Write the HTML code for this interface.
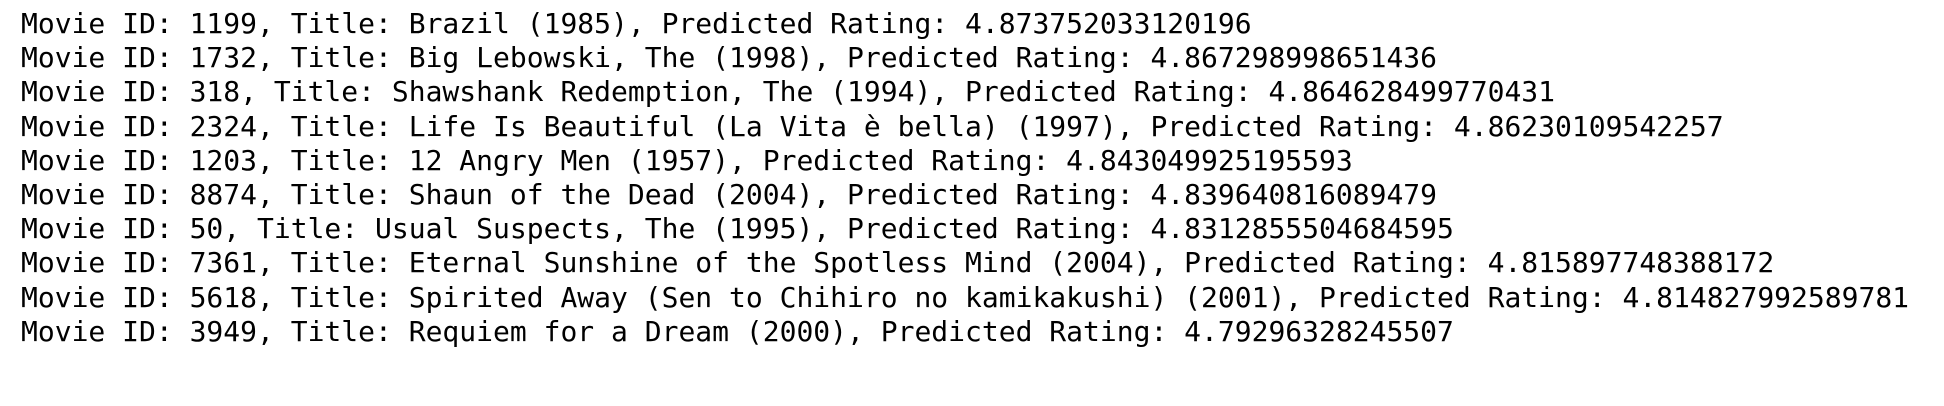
<!DOCTYPE html>
<html><head><meta charset="utf-8"><style>
html,body{margin:0;padding:0;background:#fff;}
body{width:1944px;height:406px;overflow:hidden;position:relative;}
#out{position:absolute;left:21px;top:7px;margin:0;font-family:"DejaVu Sans Mono","Liberation Mono",monospace;font-size:28px;line-height:34.2px;color:#000;white-space:pre;}
</style></head><body>
<pre id="out"><span>Movie ID: 1199, Title: Brazil (1985), Predicted Rating: 4.873752033120196</span>
<span>Movie ID: 1732, Title: Big Lebowski, The (1998), Predicted Rating: 4.867298998651436</span>
<span>Movie ID: 318, Title: Shawshank Redemption, The (1994), Predicted Rating: 4.864628499770431</span>
<span>Movie ID: 2324, Title: Life Is Beautiful (La Vita è bella) (1997), Predicted Rating: 4.86230109542257</span>
<span>Movie ID: 1203, Title: 12 Angry Men (1957), Predicted Rating: 4.843049925195593</span>
<span>Movie ID: 8874, Title: Shaun of the Dead (2004), Predicted Rating: 4.839640816089479</span>
<span>Movie ID: 50, Title: Usual Suspects, The (1995), Predicted Rating: 4.8312855504684595</span>
<span>Movie ID: 7361, Title: Eternal Sunshine of the Spotless Mind (2004), Predicted Rating: 4.815897748388172</span>
<span>Movie ID: 5618, Title: Spirited Away (Sen to Chihiro no kamikakushi) (2001), Predicted Rating: 4.814827992589781</span>
<span>Movie ID: 3949, Title: Requiem for a Dream (2000), Predicted Rating: 4.79296328245507</span></pre>
</body></html>
